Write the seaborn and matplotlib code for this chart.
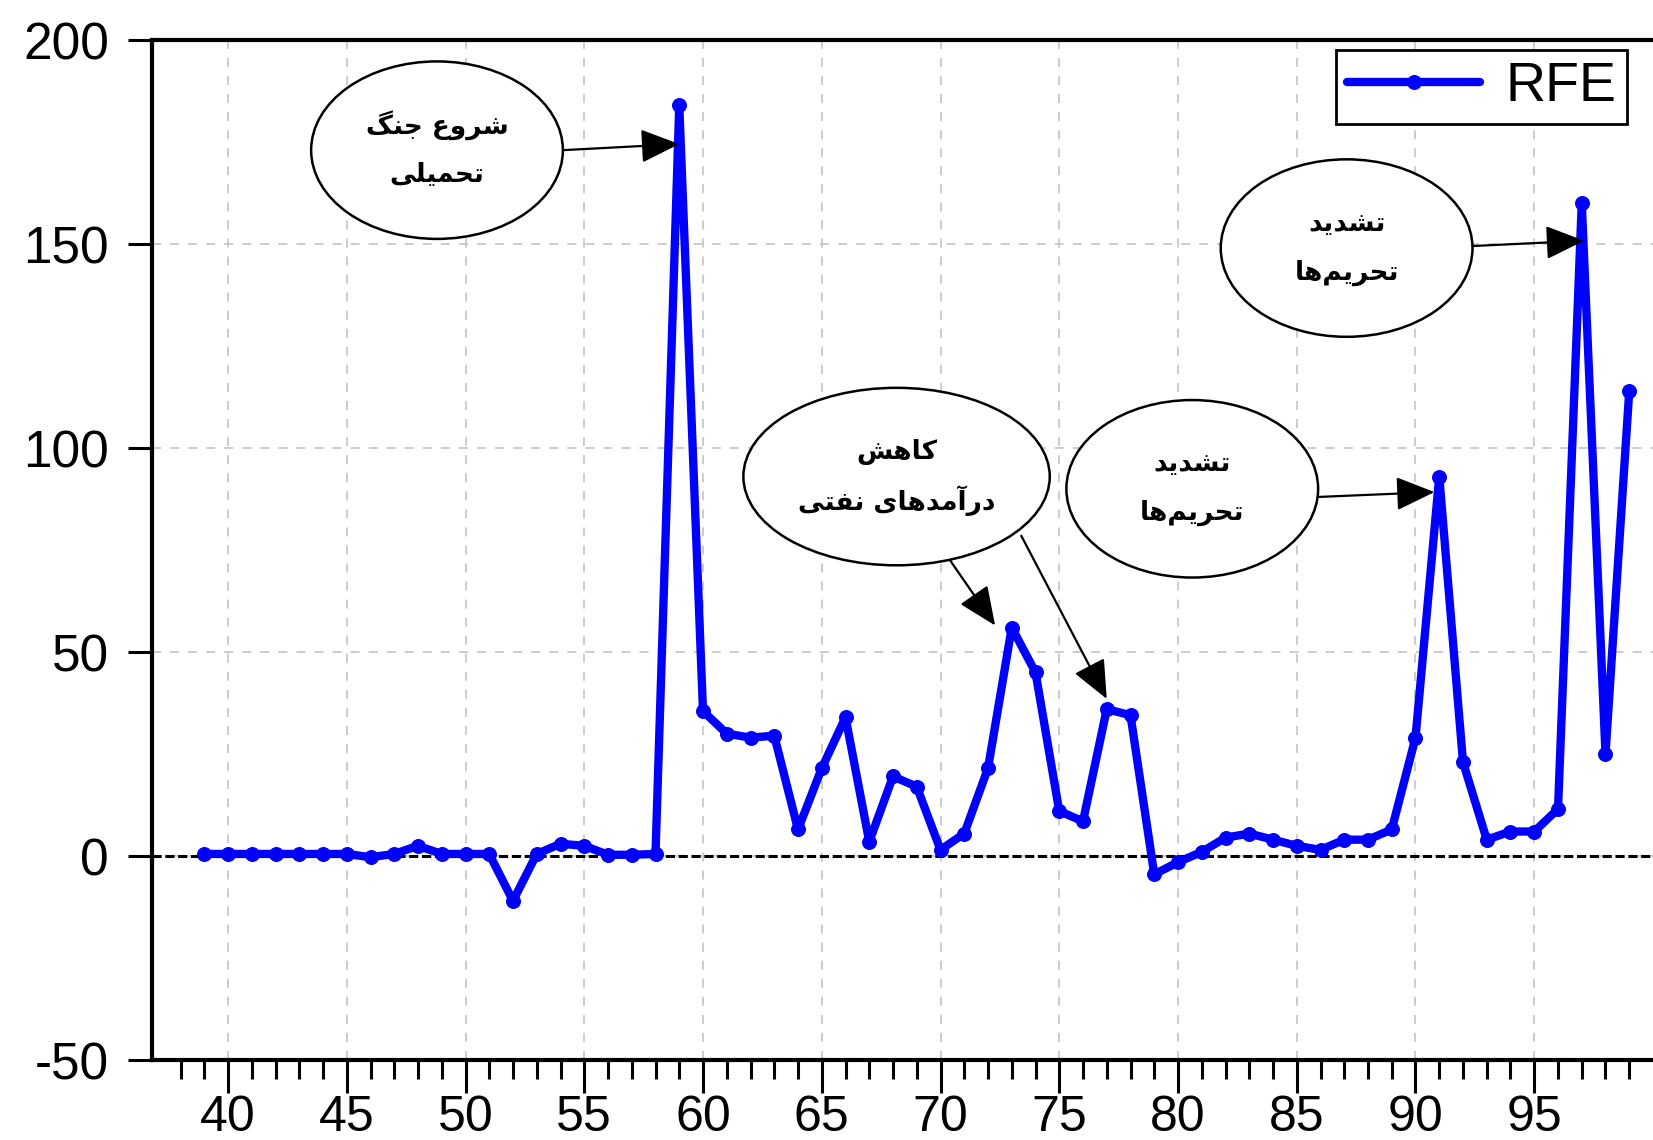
import unicodedata
import matplotlib
matplotlib.use("Agg")
import matplotlib.pyplot as plt
from matplotlib.patches import Ellipse
from matplotlib.ticker import FixedLocator
import seaborn as sns

# RFE series, one value per year (two-digit years)
years = list(range(39, 100))
rfe = [0.5, 0.5, 0.5, 0.5, 0.5, 0.5, 0.5, -0.3, 0.5, 2.5,      # 39-48
       0.5, 0.5, 0.5, -11, 0.5, 3, 2.5, 0.3, 0.3, 0.5,          # 49-58
       184, 35.5, 30, 29, 29.5, 6.5, 21.5, 34, 3.5, 19.5,       # 59-68
       17, 1.5, 5.5, 21.5, 56, 45, 11, 8.5, 36, 34.5,           # 69-78
       -4.5, -1.5, 1, 4.5, 5.5, 4, 2.5, 1.5, 4, 4,              # 79-88
       6.5, 29, 93, 23, 4, 6, 6, 11.5, 160, 25,                 # 89-98
       114]                                                     # 99

xticks = list(range(40, 100, 5))
xlabels = [str(t) for t in xticks]
yticks = [-50, 0, 50, 100, 150, 200]
ylabels = ["-50", "0", "50", "100", "150", "200"]

# callouts: (text lines, ellipse centre, ellipse width, arrows [(start, end), ...])
notes = [
    (["شروع جنگ", "تحمیلی"], (48.8, 173), 10.6, [((54.1, 173), (59.0, 174.5))]),
    (["کاهش", "درآمدهای نفتی"], (68.15, 93), 12.9, [((70.4, 72.5), (72.3, 56.5)),
                                                   ((73.4, 78.5), (77.0, 38.5))]),
    (["تشدید", "تحریم\u200cها"], (80.6, 90), 10.6, [((85.9, 88), (90.8, 89.2))]),
    (["تشدید", "تحریم\u200cها"], (87.1, 149), 10.6, [((92.4, 149.5), (97.1, 150.8))]),
]

RIGHT_ONLY = set("اآدذرزژو")


def shape(text):
    # minimal arabic/persian shaping + right-to-left ordering for matplotlib
    def is_letter(c):
        return c not in " \u200c"
    out = []
    for i, c in enumerate(text):
        if not is_letter(c):
            if c == " ":
                out.append(c)
            continue
        prev = text[i - 1] if i > 0 else None
        nxt = text[i + 1] if i + 1 < len(text) else None
        jp = prev is not None and is_letter(prev) and prev not in RIGHT_ONLY
        jn = nxt is not None and is_letter(nxt) and c not in RIGHT_ONLY
        form = {(True, True): "MEDIAL", (True, False): "FINAL",
                (False, True): "INITIAL", (False, False): "ISOLATED"}[(jp, jn)]
        try:
            out.append(unicodedata.lookup(unicodedata.name(c) + " " + form + " FORM"))
        except KeyError:
            out.append(c)
    return "".join(out[::-1])


sns.set_style("ticks")
plt.rcParams['font.family'] = ['Liberation Sans', 'DejaVu Sans']
plt.rcParams['text.color'] = 'black'

fig = plt.figure(figsize=(16.53, 11.4), dpi=100, facecolor="white")
ax = fig.add_axes([152 / 1653, 80 / 1140, 1501 / 1653, 1020 / 1140])

ax.axhline(0, color="black", lw=2.2, ls=(0, (3, 1.2)), zorder=2)
sns.lineplot(x=years, y=rfe, ax=ax, color="#0000ff", lw=6, marker="o",
             markersize=10, markeredgecolor="#0000ff", label="RFE", zorder=3)

ax.set_xlim(36.8, 100)
ax.set_ylim(-50, 200)
ax.xaxis.set_major_locator(FixedLocator(xticks))
ax.xaxis.set_minor_locator(FixedLocator([t for t in range(38, 100) if t % 5]))
ax.set_xticklabels(xlabels)
ax.set_yticks(yticks)
ax.set_yticklabels(ylabels)
ax.set_xlabel("")
ax.set_ylabel("")

ax.tick_params(axis="x", which="major", length=24, width=2.2, labelsize=36, pad=1,
               color="black", labelcolor="black")
ax.tick_params(axis="x", which="minor", length=14, width=2.2, color="black")
ax.tick_params(axis="y", length=17, width=2.2, labelsize=37, pad=14,
               color="black", labelcolor="black")

ax.grid(True, which="major", color="#c8c8c8", ls=(0, (5, 5)), lw=1.3)
ax.set_axisbelow(True)
for side in ["left", "bottom", "top"]:
    ax.spines[side].set_linewidth(3)
    ax.spines[side].set_color("black")
ax.spines["right"].set_visible(False)

leg = ax.legend(loc="upper right", bbox_to_anchor=(0.983, 0.99), borderaxespad=0,
                fontsize=40, frameon=True, fancybox=False, edgecolor="black",
                framealpha=1, handlelength=2.4, handletextpad=0.45,
                borderpad=0.2, numpoints=1)
leg.get_frame().set_linewidth(2)

for lines, (cx, cy), w, arrows in notes:
    ax.add_patch(Ellipse((cx, cy), w, 43.5, facecolor="white",
                         edgecolor="black", lw=1.8, zorder=4))
    for k, line in enumerate(lines):
        ax.text(cx, cy + 6 - 12 * k, shape(line), ha="center", va="center",
                fontsize=19, fontweight="bold", family=["DejaVu Sans"], zorder=5)
    for start, end in arrows:
        ax.annotate("", xy=end, xytext=start, zorder=5,
                    arrowprops=dict(arrowstyle="-|>,head_length=0.8,head_width=0.35",
                                    mutation_scale=30, color="black", lw=1.6,
                                    shrinkA=0, shrinkB=0))

fig.savefig("out.png", dpi=100)
